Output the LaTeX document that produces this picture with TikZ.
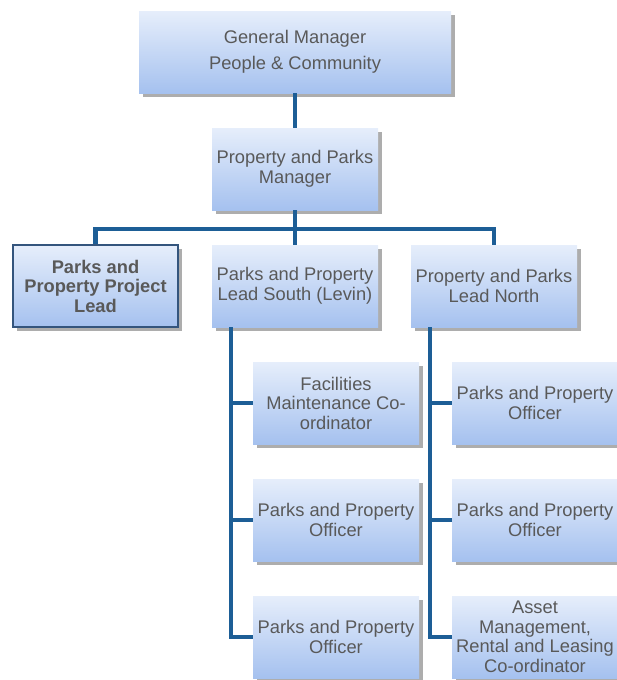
\documentclass[tikz,border=0pt]{standalone}
\usepackage{fontspec}
\setmainfont{Liberation Sans}
\usetikzlibrary{shadows}

\definecolor{boxtop}{HTML}{E6EEFB}
\definecolor{boxbot}{HTML}{A5C1EF}
\definecolor{linkblue}{HTML}{1D5E96}
\definecolor{textgrey}{HTML}{595959}
\definecolor{leadedge}{HTML}{34557D}

\tikzset{
  orgbox/.style={rectangle, minimum width=166pt, minimum height=82pt, inner sep=1pt,
    top color=boxtop, bottom color=boxbot, text=textgrey, align=center,
    font=\fontsize{18.3}{19.5}\selectfont,
    drop shadow={shadow xshift=4pt, shadow yshift=-4pt, fill=black!40, opacity=0.8}},
  link/.style={draw=linkblue, line width=4.5pt}
}

\begin{document}
\begin{tikzpicture}[x=1pt, y=1pt]
    \useasboundingbox (0,0) rectangle (616,-680);

    % top of the chart
    \node[orgbox, minimum width=312pt] (gm) at (295,-52) {General Manager\\[6pt]People \& Community};
    \node[orgbox] (ppm) at (295,-169) {Property and Parks\\Manager};

    % leads
    \node[orgbox, draw=leadedge, line width=1.2pt, minimum width=165pt, font=\fontsize{18.3}{19.5}\selectfont\bfseries] (lead) at (95.5,-286) {Parks and\\Property Project\\Lead};
    \node[orgbox] (south) at (295,-286) {Parks and Property\\Lead South (Levin)};
    \node[orgbox] (north) at (494,-286) {Property and Parks\\Lead North};

    % south team
    \node[orgbox] (s1) at (336,-403) {Facilities\\Maintenance Co-\\ordinator};
    \node[orgbox] (s2) at (336,-520) {Parks and Property\\Officer};
    \node[orgbox] (s3) at (336,-637) {Parks and Property\\Officer};

    % north team
    \node[orgbox] (n1) at (535,-403) {Parks and Property\\Officer};
    \node[orgbox] (n2) at (535,-520) {Parks and Property\\Officer};
    \node[orgbox] (n3) at (535,-637) {Asset\\Management,\\Rental and Leasing\\Co-ordinator};

    % connectors
    \coordinate (bar) at (295,-229);
    \coordinate (stop) at (231,-327);
    \coordinate (ntop) at (430,-327);
    \draw[link] (gm.south) -- (ppm.north);
    \draw[link] (ppm.south) -- (south.north);
    \draw[link] (lead.north) |- (bar) -| (north.north);
    \draw[link] (stop) |- (s3.west);
    \draw[link] (stop |- s1.west) -- (s1.west);
    \draw[link] (stop |- s2.west) -- (s2.west);
    \draw[link] (ntop) |- (n3.west);
    \draw[link] (ntop |- n1.west) -- (n1.west);
    \draw[link] (ntop |- n2.west) -- (n2.west);
\end{tikzpicture}
\end{document}
